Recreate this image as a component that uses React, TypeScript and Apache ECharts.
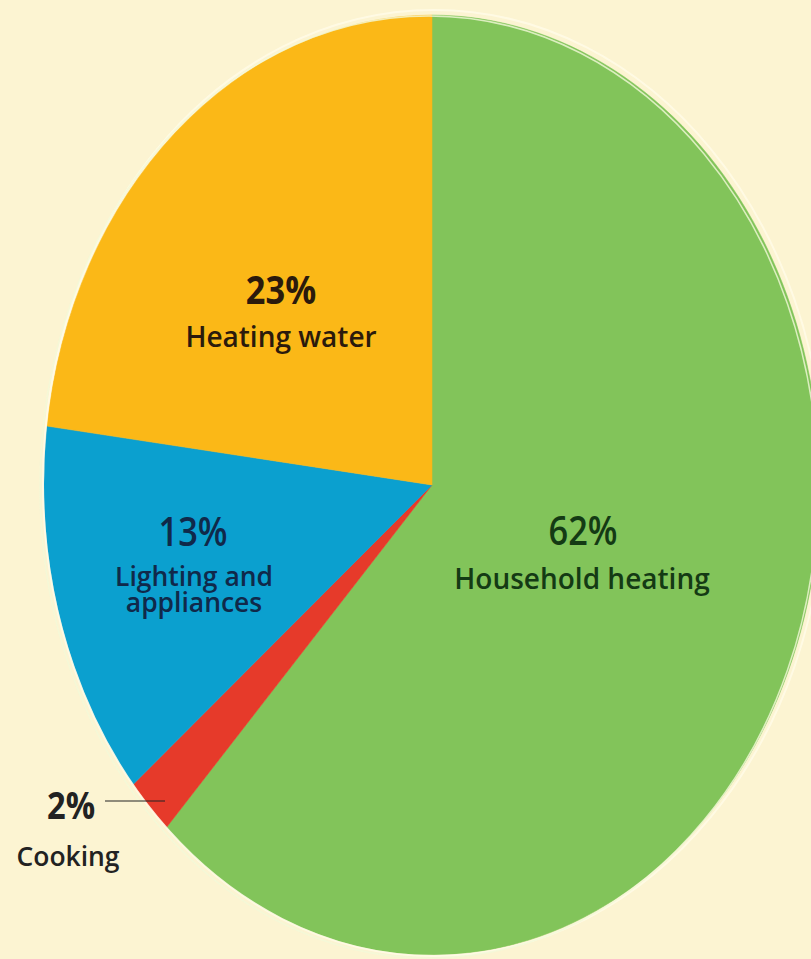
import React, { useEffect, useRef } from "react";
import * as echarts from "echarts";

const categories = ["Household heating", "Cooking", "Lighting and\nappliances", "Heating water"];
const values = [62, 2, 13, 23];
const colors = ["#82c45a", "#e63a2a", "#0ba0cf", "#fbb817"];

export default function App() {
  const ref = useRef<HTMLDivElement>(null);
  useEffect(() => {
    if (!ref.current) return;
    const chart = echarts.init(ref.current, null, { renderer: "svg" });
    const total = values.reduce((a, b) => a + b, 0);
    const starts: number[] = [];
    let acc = 0;
    values.forEach((v) => {
      starts.push(acc);
      acc += v;
    });
    const cx = 432, cy = 485, rx = 388, ry = 470;
    const font = "'Open Sans', 'DejaVu Sans', sans-serif";
    const txt = (
      x: number,
      y: number,
      text: string,
      size: number,
      weight: any,
      fill: string,
      sx = 1,
      lh?: number
    ) => ({
      type: "text",
      x,
      y,
      scaleX: sx,
      style: {
        text,
        fontSize: size,
        fontWeight: weight,
        fontFamily: font,
        fill,
        align: "center",
        verticalAlign: "middle",
        lineHeight: lh ?? Math.round(size * 1.2),
      },
      z: 10,
    });
    chart.setOption({
      animation: false,
      backgroundColor: "#fcf4d2",
      series: [
        {
          type: "custom",
          coordinateSystem: "none",
          data: values.map((v, i) => [v, i]),
          renderItem: (params: any, api: any) => {
            const i = params.dataIndex;
            const v = api.value(0);
            const a0 = -Math.PI / 2 + (starts[i] / total) * Math.PI * 2;
            const a1 = a0 + (v / total) * Math.PI * 2;
            return {
              type: "sector",
              shape: { cx: 0, cy: 0, r0: 0, r: rx, startAngle: a0, endAngle: a1, clockwise: true },
              x: cx,
              y: cy,
              scaleY: ry / rx,
              style: { fill: colors[i], stroke: colors[i], lineWidth: 0.5 },
            };
          },
        },
      ],
      graphic: [
        {
          type: "ellipse",
          shape: { cx: cx + 2, cy: cy - 2, rx: rx + 3, ry: ry + 3 },
          style: { fill: "none", stroke: "#fffbe6", lineWidth: 2, opacity: 0.9 },
          z: 5,
        },
        {
          type: "ellipse",
          shape: { cx: cx - 3, cy: cy + 2, rx: rx + 1, ry: ry + 1 },
          style: { fill: "none", stroke: "#f3f9d8", lineWidth: 1.5, opacity: 0.8 },
          z: 5,
        },
        txt(281, 288, values[3] + "%", 40, 700, "#2b1a0c", 0.86),
        txt(281, 336, categories[3], 28, 600, "#2b1a0c"),
        txt(193, 530, values[2] + "%", 40, 600, "#10294a", 0.86),
        txt(194, 588, categories[2], 27, 600, "#10294a", 0.98, 26),
        txt(583, 529, values[0] + "%", 40, 600, "#143a14", 0.86),
        txt(582, 578, categories[0], 28, 600, "#143a14"),
        txt(71, 804, values[1] + "%", 38, 700, "#222222", 0.86),
        txt(68, 855, categories[1], 27, 600, "#222222", 0.98),
        {
          type: "line",
          shape: { x1: 105, y1: 801, x2: 165, y2: 801 },
          style: { stroke: "#222222", lineWidth: 1.2 },
          z: 10,
        },
      ],
    });
    return () => chart.dispose();
  }, []);
  return <div ref={ref} style={{ position: "absolute", left: 0, top: 0, width: 811, height: 959 }} />;
}
